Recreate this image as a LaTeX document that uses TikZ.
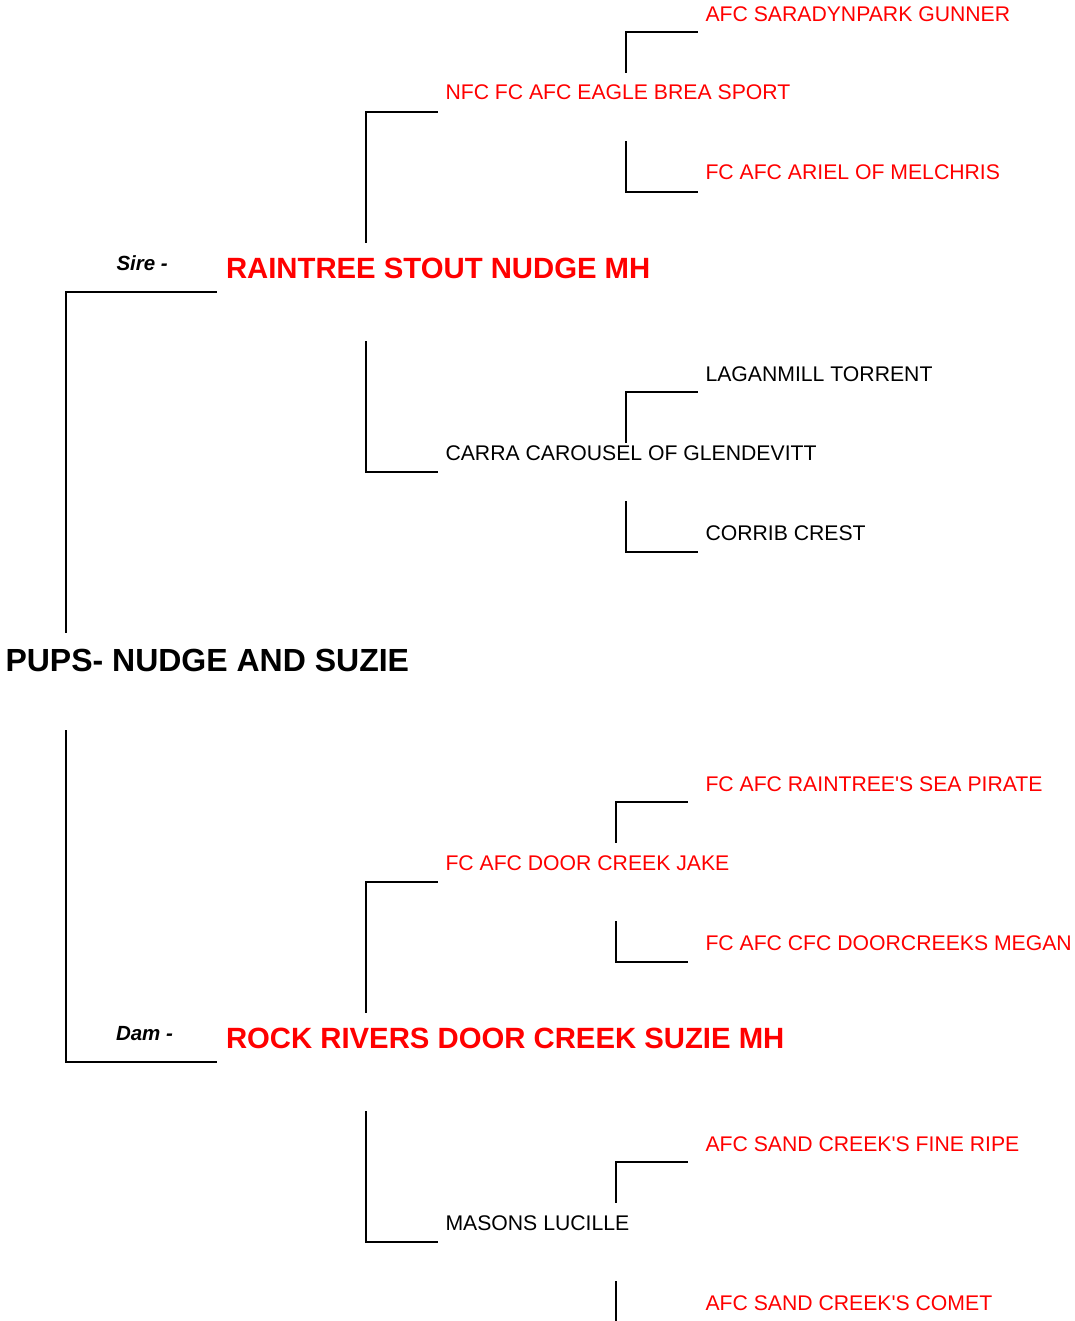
\documentclass[tikz,border=0pt]{standalone}
\usepackage{fontspec}
\setmainfont{Liberation Sans}
\definecolor{pedred}{HTML}{FF0000}
\newcommand{\sq}{\textquotesingle}
\begin{document}
\begin{tikzpicture}[x=1pt,y=-1pt,
  lbl/.style={anchor=base west,inner sep=0pt,outer sep=0pt},
  gen/.style={lbl,font=\fontsize{21.2}{25}\selectfont},
  red/.style={text=pedred},
  big/.style={lbl,font=\fontsize{29.3}{34}\selectfont\bfseries,text=pedred},
  role/.style={lbl,font=\fontsize{20.5}{24}\selectfont\bfseries\itshape},
  conn/.style={draw=black,line width=1.6pt,line cap=rect}]
\useasboundingbox (0,0) rectangle (1074,1321);
% title
\node[lbl,font=\fontsize{32}{38}\selectfont\bfseries] (pups) at (5.5,671.5) {PUPS- NUDGE AND SUZIE};
% sire
\node[role] (sire) at (116.5,270.5) {Sire -};
\node[big] (nudge) at (226,278.5) {RAINTREE STOUT NUDGE MH};
\node[gen,red] (eagle) at (445.5,100) {NFC FC AFC EAGLE BREA SPORT};
\node[gen] (carra) at (445.5,460) {CARRA CAROUSEL OF GLENDEVITT};
\node[gen,red] (gunner) at (705.5,21.5) {AFC SARADYNPARK GUNNER};
\node[gen,red] (ariel) at (705.5,180) {FC AFC ARIEL OF MELCHRIS};
\node[gen] (lagan) at (705.5,381) {LAGANMILL TORRENT};
\node[gen] (corrib) at (705.5,540.5) {CORRIB CREST};
% dam
\node[role] (dam) at (116,1040.5) {Dam -};
\node[big] (suzie) at (226,1048.5) {ROCK RIVERS DOOR CREEK SUZIE MH};
\node[gen,red] (jake) at (445.5,870) {FC AFC DOOR CREEK JAKE};
\node[gen] (lucille) at (445.5,1230) {MASONS LUCILLE};
\node[gen,red] (pirate) at (705.5,791) {FC AFC RAINTREE\sq S SEA PIRATE};
\node[gen,red] (megan) at (705.5,950) {FC AFC CFC DOORCREEKS MEGAN};
\node[gen,red] (ripe) at (705.5,1151) {AFC SAND CREEK\sq S FINE RIPE};
\node[gen,red] (comet) at (705.5,1310.5) {AFC SAND CREEK\sq S COMET};
% brackets: generation 1
\draw[conn] (216,292) -- (66,292) -- (66,632);
\draw[conn] (66,731) -- (66,1062) -- (216,1062);
% generation 2, sire
\draw[conn] (437,112) -- (366,112) -- (366,242);
\draw[conn] (366,342) -- (366,472) -- (437,472);
% generation 3, sire
\draw[conn] (697,32) -- (626,32) -- (626,72);
\draw[conn] (626,142) -- (626,192) -- (697,192);
\draw[conn] (697,392) -- (626,392) -- (626,442);
\draw[conn] (626,502) -- (626,552) -- (697,552);
% generation 2, dam
\draw[conn] (437,882) -- (366,882) -- (366,1012);
\draw[conn] (366,1112) -- (366,1242) -- (437,1242);
% generation 3, dam
\draw[conn] (687,802) -- (616,802) -- (616,842);
\draw[conn] (616,922) -- (616,962) -- (687,962);
\draw[conn] (687,1162) -- (616,1162) -- (616,1202);
\draw[conn] (616,1282) -- (616,1330);
\end{tikzpicture}
\end{document}
